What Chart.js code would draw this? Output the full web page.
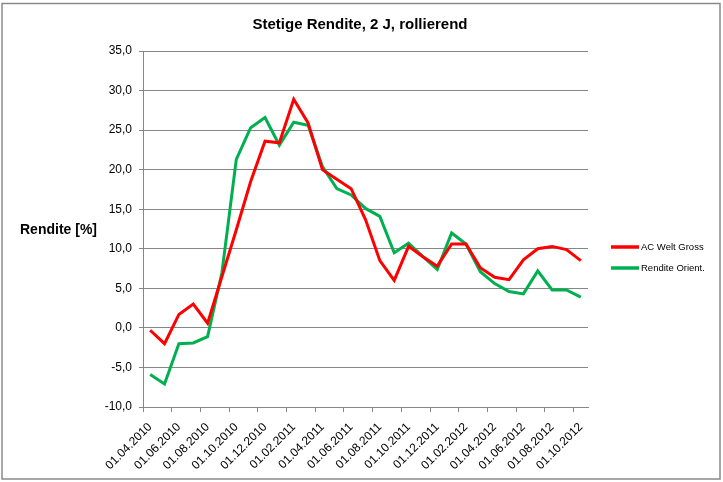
<!DOCTYPE html>
<html>
<head>
<meta charset="utf-8">
<script src="https://cdn.jsdelivr.net/npm/chart.js@4"></script>
<style>
html,body{margin:0;padding:0;background:#fff;}
#wrap{position:relative;width:723px;height:482px;}
</style>
</head>
<body>
<div id="wrap"><canvas id="c" width="723" height="482"></canvas></div>
<script>
const chartTitle = "Stetige Rendite, 2 J, rollierend";
const yTitle = "Rendite [%]";
const categories = [
  "01.04.2010","01.05.2010","01.06.2010","01.07.2010","01.08.2010","01.09.2010","01.10.2010","01.11.2010","01.12.2010",
  "01.01.2011","01.02.2011","01.03.2011","01.04.2011","01.05.2011","01.06.2011","01.07.2011","01.08.2011","01.09.2011","01.10.2011","01.11.2011","01.12.2011",
  "01.01.2012","01.02.2012","01.03.2012","01.04.2012","01.05.2012","01.06.2012","01.07.2012","01.08.2012","01.09.2012","01.10.2012"
];
const seriesNames = ["AC Welt Gross", "Rendite Orient."];
const acWeltGross = [-0.3, -2.0, 1.7, 3.0, 0.6, 6.5, 12.4, 18.5, 23.6, 23.4, 28.9, 25.9, 20.0, 18.8, 17.6, 13.7, 8.5, 6.0, 10.3, 9.0, 7.8, 10.6, 10.6, 7.6, 6.4, 6.1, 8.6, 10.0, 10.3, 9.9, 8.5];
const renditeOrient = [-5.9, -7.1, -2.0, -1.9, -1.1, 7.0, 21.3, 25.3, 26.6, 23.1, 26.0, 25.6, 20.4, 17.6, 16.8, 15.1, 14.1, 9.5, 10.7, 9.0, 7.4, 12.0, 10.6, 7.1, 5.6, 4.6, 4.3, 7.2, 4.8, 4.8, 3.9];
const yMin = -10, yMax = 35, yStep = 5;

const FONT = "'Liberation Sans', Arial, sans-serif";
const GRID = '#868686';

const decor = {
  id: 'decor',
  beforeDraw(chart) {
    const ctx = chart.ctx;
    ctx.save();
    ctx.fillStyle = '#fff';
    ctx.fillRect(0, 0, chart.width, chart.height);
    ctx.strokeStyle = '#8a8a8a';
    ctx.lineWidth = 1.5;
    ctx.strokeRect(2, 3.5, 718, 475.5);
    ctx.restore();
  },
  afterDraw(chart) {
    const ctx = chart.ctx;
    ctx.save();
    ctx.fillStyle = '#000';
    ctx.textBaseline = 'middle';
    ctx.font = 'bold 15px ' + FONT;
    ctx.textAlign = 'center';
    ctx.fillText(chartTitle, 360, 25);
    ctx.font = 'bold 14px ' + FONT;
    ctx.textAlign = 'left';
    ctx.fillText(yTitle, 20, 230);
    // legend
    const ys = [247, 268];
    chart.data.datasets.forEach((ds, i) => {
      ctx.strokeStyle = ds.borderColor;
      ctx.lineWidth = 3.5;
      ctx.beginPath();
      ctx.moveTo(611, ys[i]);
      ctx.lineTo(639, ys[i]);
      ctx.stroke();
      ctx.fillStyle = '#000';
      ctx.font = '9.5px ' + FONT;
      ctx.fillText(ds.label, 641, ys[i]);
    });
    ctx.restore();
  }
};

new Chart(document.getElementById('c'), {
  type: 'line',
  data: {
    labels: categories,
    datasets: [
      { label: seriesNames[0], data: acWeltGross, borderColor: '#ff0000', backgroundColor: '#ff0000', borderWidth: 3, pointRadius: 0, tension: 0, fill: false },
      { label: seriesNames[1], data: renditeOrient, borderColor: '#00b050', backgroundColor: '#00b050', borderWidth: 3, pointRadius: 0, tension: 0, fill: false }
    ]
  },
  options: {
    responsive: false,
    animation: false,
    devicePixelRatio: 1,
    layout: { padding: { left: 0, top: 51, right: 135, bottom: 0 } },
    plugins: { legend: { display: false }, title: { display: false }, tooltip: { enabled: false } },
    scales: {
      x: {
        type: 'category',
        offset: true,
        afterFit(scale) { scale.height = 75; },
        border: { display: true, color: GRID, width: 1 },
        grid: {
          offset: true,
          drawOnChartArea: false,
          drawTicks: true,
          tickLength: 5,
          color: (c) => (c.index % 2 === 0 ? GRID : 'rgba(0,0,0,0)')
        },
        ticks: {
          autoSkip: false,
          maxRotation: 45,
          minRotation: 45,
          padding: 8,
          color: '#000',
          font: { family: FONT, size: 12 },
          callback: function(v, i) { return i % 2 === 0 ? categories[i] : ''; }
        }
      },
      y: {
        min: yMin,
        max: yMax,
        afterFit(scale) { scale.width = 143; },
        border: { display: true, color: GRID, width: 1 },
        grid: { color: GRID, lineWidth: 1, drawTicks: true, tickLength: 4 },
        ticks: {
          stepSize: yStep,
          padding: 7,
          color: '#000',
          font: { family: FONT, size: 12 },
          callback: (v) => v.toFixed(1).replace('.', ',')
        }
      }
    }
  },
  plugins: [decor]
});
</script>
</body>
</html>
